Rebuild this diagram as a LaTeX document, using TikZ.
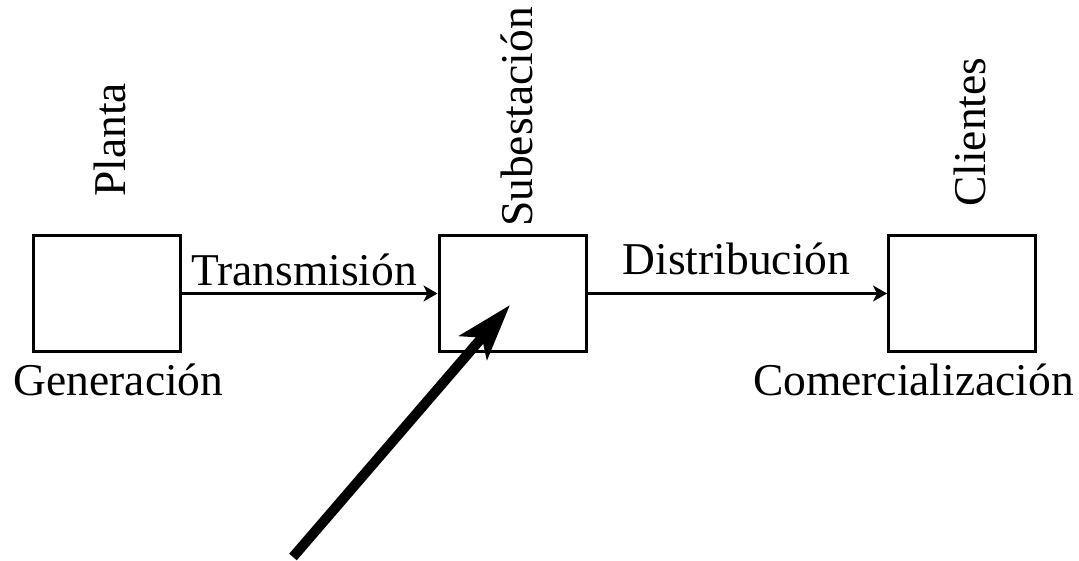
\documentclass[tikz,border=0pt]{standalone}
\usepackage{fontspec}
\setmainfont{Liberation Serif}
\usetikzlibrary{arrows.meta}
\begin{document}
\begin{tikzpicture}[x=1pt,y=-1pt,
  box/.style={draw, line width=3pt, minimum width=147pt, minimum height=116pt, inner sep=0pt},
  lbl/.style={inner sep=0pt, font=\fontsize{45.5}{50}\selectfont},
  vlbl/.style={lbl, rotate=90, anchor=base west},
  thin/.style={line width=3pt, -{Stealth[length=14pt,width=16pt,inset=4pt]}},
  thick/.style={line width=10pt, -{Stealth[length=56pt,width=36pt,inset=13pt]}}]
\useasboundingbox (0,0) rectangle (1079,561);
\node[box] (gen) at (107,293.5) {};
\node[box] (sub) at (512.5,293.5) {};
\node[box] (cli) at (962,293.5) {};
\node[vlbl] (planta) at (125,197) {Planta};
\node[vlbl] (subest) at (532,227) {Subestación};
\node[vlbl] (clientes) at (985,207) {Clientes};
\node[lbl, anchor=base] (generacion) at (118.5,395) {Generación};
\node[lbl, anchor=base] (comerc) at (913.5,395) {Comercialización};
\node[lbl, anchor=base] (transm) at (304,286) {Transmisión};
\node[lbl, anchor=base] (distr) at (736.5,275) {Distribución};
\draw[thin] (gen.east) -- (sub.west);
\draw[thin] (sub.east) -- (cli.west);
\coordinate (start) at (293,557);
\coordinate (tip) at (510,305);
\draw[thick] (start) -- (tip);
\end{tikzpicture}
\end{document}
